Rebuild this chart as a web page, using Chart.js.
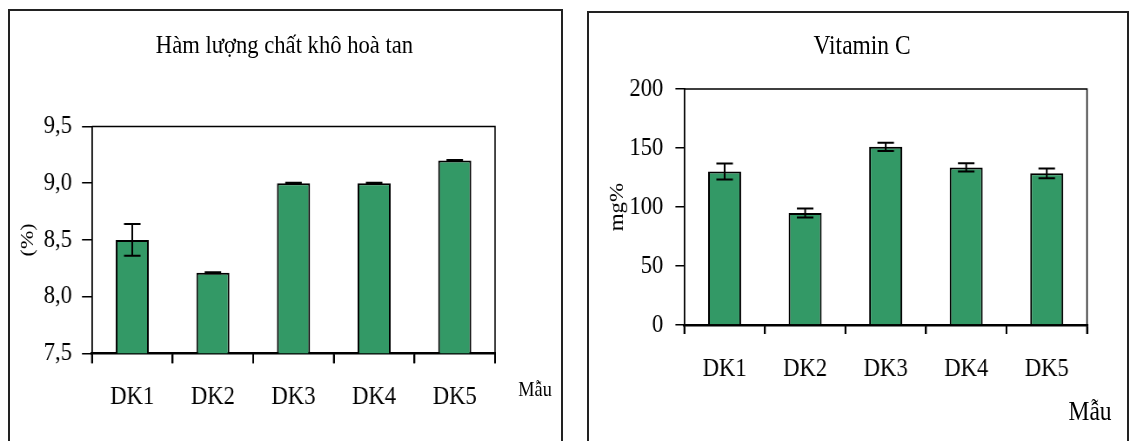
<!DOCTYPE html>
<html>
<head>
<meta charset="utf-8">
<script src="https://cdn.jsdelivr.net/npm/chart.js@4/dist/chart.umd.min.js"></script>
<style>
  body { margin: 0; width: 1130px; height: 441px; background: #fff; position: relative; overflow: hidden; }
  .box { position: absolute; border: 2px solid #222; box-sizing: border-box; }
  /* the source figure uses tall, condensed lettering: squeeze each panel horizontally */
  .panel { position: absolute; top: 0; height: 441px; transform: scaleX(0.87); transform-origin: 0 0; }
  .panel canvas { position: absolute; left: 0; top: 0; }
  .txt { position: absolute; font-family: 'Liberation Serif', 'Times New Roman', serif; line-height: 1; text-align: center; white-space: nowrap; color: #000; }
</style>
</head>
<body>
  <div class="box" style="left:8px; top:9px; width:555px; height:450px;"></div>
  <div class="box" style="left:587px; top:11px; width:542px; height:450px;"></div>

  <div class="panel" style="left:0px; width:655px;">
    <canvas id="solubleChart" width="655" height="441"></canvas>
    <div class="txt" style="left:127px; width:400px; top:32px; font-size:26px;">Hàm lượng chất khô hoà tan</div>
    <div class="txt" style="left:580px; width:70px; top:379px; font-size:21px;">Mẫu</div>
  </div>

  <div class="panel" style="left:575px; width:638px;">
    <canvas id="vitaminChart" width="638" height="441"></canvas>
    <div class="txt" style="left:130px; width:400px; top:32px; font-size:27px;">Vitamin C</div>
    <div class="txt" style="left:557px; width:70px; top:398px; font-size:27px;">Mẫu</div>
  </div>

<script>
const categories = ['DK1', 'DK2', 'DK3', 'DK4', 'DK5'];

// Hàm lượng chất khô hoà tan (%)
const solubleValues = [8.5, 8.21, 9.0, 9.0, 9.2];
const solubleErrors = [0.14, 0.005, 0.005, 0.005, 0.005];

// Vitamin C (mg%)
const vitaminValues = [130, 95, 151, 133.5, 128.5];
const vitaminErrors = [6.8, 3.8, 3.5, 3.5, 4.2];

const barGreen = '#339966';
Chart.defaults.font.family = "'Liberation Serif', 'Times New Roman', serif";
Chart.defaults.color = '#000';

// error bars drawn from the y scale
const errorBars = {
  id: 'errorBars',
  afterDatasetsDraw(chart, args, opts) {
    const ctx = chart.ctx;
    const y = chart.scales.y;
    const values = chart.data.datasets[0].data;
    ctx.save();
    ctx.strokeStyle = '#000';
    ctx.lineWidth = 2;
    chart.getDatasetMeta(0).data.forEach((bar, i) => {
      const top = y.getPixelForValue(values[i] + opts.errors[i]);
      const bot = y.getPixelForValue(values[i] - opts.errors[i]);
      ctx.beginPath();
      ctx.moveTo(bar.x, top); ctx.lineTo(bar.x, bot);
      ctx.moveTo(bar.x - 9.5, top); ctx.lineTo(bar.x + 9.5, top);
      ctx.moveTo(bar.x - 9.5, bot); ctx.lineTo(bar.x + 9.5, bot);
      ctx.stroke();
    });
    ctx.restore();
  }
};

// top/right edges of the plot frame + tick marks between categories
const plotFrame = {
  id: 'plotFrame',
  afterDraw(chart, args, opts) {
    const { ctx, chartArea: a } = chart;
    const x = chart.scales.x;
    ctx.save();
    ctx.strokeStyle = '#000';
    ctx.lineWidth = 1.5;
    ctx.beginPath();
    ctx.moveTo(a.left, a.top); ctx.lineTo(a.right, a.top); ctx.lineTo(a.right, a.bottom);
    ctx.stroke();

    ctx.lineWidth = 2;
    ctx.beginPath();
    const half = (x.getPixelForValue(1) - x.getPixelForValue(0)) / 2;
    for (let i = 0; i <= categories.length; i++) {
      const px = x.getPixelForValue(Math.min(i, categories.length - 1)) + (i < categories.length ? -half : half);
      ctx.moveTo(px, a.bottom);
      ctx.lineTo(px, a.bottom + opts.tick);
    }
    ctx.stroke();
    ctx.restore();
  }
};

function makeChart(id, values, errors, cfg) {
  return new Chart(document.getElementById(id).getContext('2d'), {
    type: 'bar',
    data: {
      labels: categories,
      datasets: [{
        data: values,
        backgroundColor: barGreen,
        borderColor: '#000',
        borderWidth: 2,
        barPercentage: 0.41,
        categoryPercentage: 1.0
      }]
    },
    options: {
      responsive: false,
      animation: false,
      layout: { padding: cfg.padding },
      scales: {
        x: {
          afterFit: scale => { scale.height = 60; },
          grid: { offset: true, drawOnChartArea: false, tickLength: cfg.xTick, color: '#000', lineWidth: 2 },
          border: { color: '#000', width: 2.5 },
          ticks: { font: { size: 26 }, padding: cfg.xPad, color: '#000' }
        },
        y: {
          min: cfg.min,
          max: cfg.max,
          afterFit: scale => { scale.width = cfg.yWidth; },
          grid: { drawOnChartArea: false, tickLength: cfg.yTick, color: '#000', lineWidth: 1.5 },
          border: { color: '#000', width: 1.8 },
          ticks: { stepSize: cfg.step, font: { size: 26 }, padding: cfg.yPad, color: '#000', callback: cfg.fmt },
          title: { display: true, text: cfg.title, font: { size: cfg.titleSize }, color: '#000', padding: { top: cfg.titlePad, bottom: 0 } }
        }
      },
      plugins: {
        legend: { display: false },
        tooltip: { enabled: false },
        errorBars: { errors: errors },
        plotFrame: { tick: cfg.xTick }
      }
    },
    plugins: [errorBars, plotFrame]
  });
}

document.addEventListener("DOMContentLoaded", function () {
  makeChart('solubleChart', solubleValues, solubleErrors, {
    padding: { left: 0, top: 126.5, right: 86, bottom: 27.7 },
    min: 7.5, max: 9.5, step: 0.5,
    fmt: v => v.toFixed(1).replace('.', ','),
    yWidth: 105.7, yTick: 11.5, yPad: 11.5,
    xTick: 10, xPad: 18,
    title: '(%)', titleSize: 22, titlePad: 19
  });

  makeChart('vitaminChart', vitaminValues, vitaminErrors, {
    padding: { left: 0, top: 89, right: 49.5, bottom: 56 },
    min: 0, max: 200, step: 50,
    fmt: v => v,
    yWidth: 125.7, yTick: 10.3, yPad: 13.8,
    xTick: 9, xPad: 20,
    title: 'mg%', titleSize: 23, titlePad: 35
  });
});
</script>
</body>
</html>
